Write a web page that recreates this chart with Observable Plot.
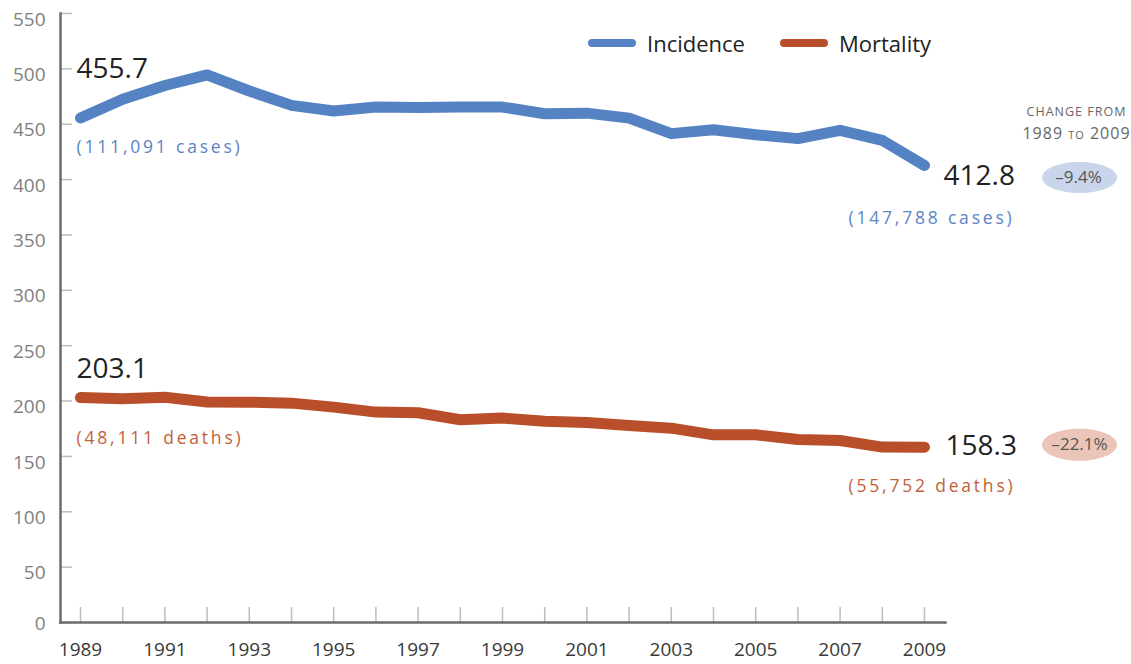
<!DOCTYPE html>
<html>
<head>
<meta charset="utf-8">
<script src="https://cdn.jsdelivr.net/npm/d3@7"></script>
<script src="https://cdn.jsdelivr.net/npm/@observablehq/plot@0.6"></script>
<style>
  html, body { margin: 0; padding: 0; background: #fff; }
  #chart { position: relative; width: 1131px; height: 664px; font-family: 'Open Sans', sans-serif; }
  #chart svg { display: block; }
  .legend-item { position: absolute; top: 28px; height: 30px; display: flex; align-items: center; font-size: 22px; color: #222; }
  .legend-item .sw { display: inline-block; width: 48px; height: 8px; border-radius: 4px; margin-right: 11px; }
</style>
</head>
<body>
<div id="chart"></div>
<script>
const years = [1989,1990,1991,1992,1993,1994,1995,1996,1997,1998,1999,2000,2001,2002,2003,2004,2005,2006,2007,2008,2009];
const incidence = [455.7,472.5,485,494.5,480,467,462,465.5,465.2,465.5,465.5,459.5,460,455.5,441.5,445,440.5,437,444.5,435.4,412.8];
const mortality = [203.1,202.1,203.5,199.2,199,198.1,194.5,190,189.4,183.1,184.6,181.8,180.7,178,175.5,169.5,169.5,165.3,164.4,158.4,158.3];
const seriesNames = ["Incidence", "Mortality"];
const seriesColors = ["#5482c3", "#b94e2a"];
const yTicks = [0,50,100,150,200,250,300,350,400,450,500,550];
const xLabelYears = [1989,1991,1993,1995,1997,1999,2001,2003,2005,2007,2009];
const incidenceCounts = ["(111,091 cases)", "(147,788 cases)"];
const mortalityCounts = ["(48,111 deaths)", "(55,752 deaths)"];
const changes = ["–9.4%", "–22.1%"];
const changeHeader = ["CHANGE FROM", "1989 to 2009"];

const rows = [
  ...years.map((year, i) => ({year, value: incidence[i], series: seriesNames[0]})),
  ...years.map((year, i) => ({year, value: mortality[i], series: seriesNames[1]}))
];
const n = years.length;
const incFirst = {year: years[0], value: incidence[0]};
const incLast = {year: years[n-1], value: incidence[n-1]};
const morFirst = {year: years[0], value: mortality[0]};
const morLast = {year: years[n-1], value: mortality[n-1]};
const fmt = d3.format(".1f");

const ellipse = (rx, ry) => ({
  draw(ctx) {
    const k = 0.5523;
    ctx.moveTo(rx, 0);
    ctx.bezierCurveTo(rx, ry * k, rx * k, ry, 0, ry);
    ctx.bezierCurveTo(-rx * k, ry, -rx, ry * k, -rx, 0);
    ctx.bezierCurveTo(-rx, -ry * k, -rx * k, -ry, 0, -ry);
    ctx.bezierCurveTo(rx * k, -ry, rx, -ry * k, rx, 0);
    ctx.closePath();
  }
});

const svg = Plot.plot({
  width: 1131,
  height: 664,
  marginLeft: 60,
  marginRight: 186,
  marginTop: 13,
  marginBottom: 42,
  style: {fontFamily: "'Open Sans', sans-serif", background: "#fff"},
  x: {domain: [years[0], years[n-1]], range: [80, 924]},
  y: {domain: [yTicks[0], yTicks[yTicks.length-1]]},
  color: {domain: seriesNames, range: seriesColors},
  marks: [
    Plot.axisY({ticks: yTicks, tickSize: 12, insetLeft: 12, fill: "none", stroke: "#bdbdbd", strokeWidth: 1.5, label: null}),
    Plot.axisY({ticks: yTicks.filter(d => d > 0), tickSize: 0, tickPadding: 15, dy: 6, fill: "#808080", fontSize: 19, label: null}),
    Plot.axisY({ticks: yTicks.filter(d => d === 0), tickSize: 0, tickPadding: 15, dy: 1, fill: "#808080", fontSize: 19, label: null}),
    Plot.axisX({ticks: years, tickSize: 15, insetBottom: 15, fill: "none", stroke: "#bdbdbd", strokeWidth: 1.5, label: null}),
    Plot.axisX({ticks: xLabelYears, tickSize: 0, tickPadding: 20, tickFormat: d => String(d), fill: "#3a3a3a", fontSize: 19, label: null}),
    Plot.frame({anchor: "left", stroke: "#6b6b6b", strokeWidth: 2.5}),
    Plot.frame({anchor: "bottom", stroke: "#6b6b6b", strokeWidth: 2.5}),
    Plot.line(rows, {x: "year", y: "value", z: "series", stroke: "series", strokeWidth: 11, strokeLinecap: "round", strokeLinejoin: "round"}),
    // start / end values
    Plot.text([incFirst], {x: "year", y: "value", text: d => fmt(d.value), dx: -4, dy: -49, textAnchor: "start", fontSize: 28, fill: "#222"}),
    Plot.text([morFirst], {x: "year", y: "value", text: d => fmt(d.value), dx: -4, dy: -28.5, textAnchor: "start", fontSize: 28, fill: "#222"}),
    Plot.text([incLast], {x: "year", y: "value", text: d => fmt(d.value), dx: 19, dy: 11, textAnchor: "start", fontSize: 28, fill: "#222"}),
    Plot.text([morLast], {x: "year", y: "value", text: d => fmt(d.value), dx: 21, dy: -1, textAnchor: "start", fontSize: 28, fill: "#222"}),
    // counts
    Plot.text([incFirst], {x: "year", y: "value", text: () => incidenceCounts[0], dx: -4, dy: 29, textAnchor: "start", fontSize: 17.5, fill: "#5a85c4"}),
    Plot.text([incLast], {x: "year", y: "value", text: () => incidenceCounts[1], dx: 90, dy: 53, textAnchor: "end", fontSize: 17.5, fill: "#5a85c4"}),
    Plot.text([morFirst], {x: "year", y: "value", text: () => mortalityCounts[0], dx: -4, dy: 40.5, textAnchor: "start", fontSize: 17.5, fill: "#c25f3b"}),
    Plot.text([morLast], {x: "year", y: "value", text: () => mortalityCounts[1], dx: 91, dy: 39, textAnchor: "end", fontSize: 17.5, fill: "#c25f3b"}),
    // change header
    Plot.text([incLast], {x: "year", y: "value", text: () => changeHeader[0], dx: 152, dy: -53, fontSize: 12.5, fill: "#666"}),
    Plot.text([incLast], {x: "year", y: "value", text: () => changeHeader[1], dx: 152, dy: -32, fontSize: 16, fontVariant: "small-caps", fill: "#666"}),
    // change ellipses
    Plot.dot([incLast], {x: "year", y: "value", dx: 155, dy: 12, symbol: ellipse(37.5, 15.5), fill: "#c9d5eb", stroke: "none"}),
    Plot.dot([morLast], {x: "year", y: "value", dx: 155, dy: -2.5, symbol: ellipse(37.5, 16), fill: "#eac5b8", stroke: "none"}),
    Plot.text([incLast], {x: "year", y: "value", text: () => changes[0], dx: 154, dy: 12, fontSize: 17, fill: "#555"}),
    Plot.text([morLast], {x: "year", y: "value", text: () => changes[1], dx: 155, dy: -2.5, fontSize: 17, fill: "#555"})
  ]
});

svg.querySelectorAll("text").forEach(t => {
  const s = t.textContent;
  if (s.startsWith("(")) t.setAttribute("letter-spacing", "2.8");
  else if (s === changeHeader[0] || s === changeHeader[1]) t.setAttribute("letter-spacing", "1");
});

const chart = document.getElementById("chart");
chart.appendChild(svg);

const legendLefts = [588, 780];
seriesNames.forEach((name, i) => {
  const item = document.createElement("div");
  item.className = "legend-item";
  item.style.left = legendLefts[i] + "px";
  const sw = document.createElement("span");
  sw.className = "sw";
  sw.style.background = seriesColors[i];
  const label = document.createElement("span");
  label.textContent = name;
  item.appendChild(sw);
  item.appendChild(label);
  chart.appendChild(item);
});
</script>
</body>
</html>
